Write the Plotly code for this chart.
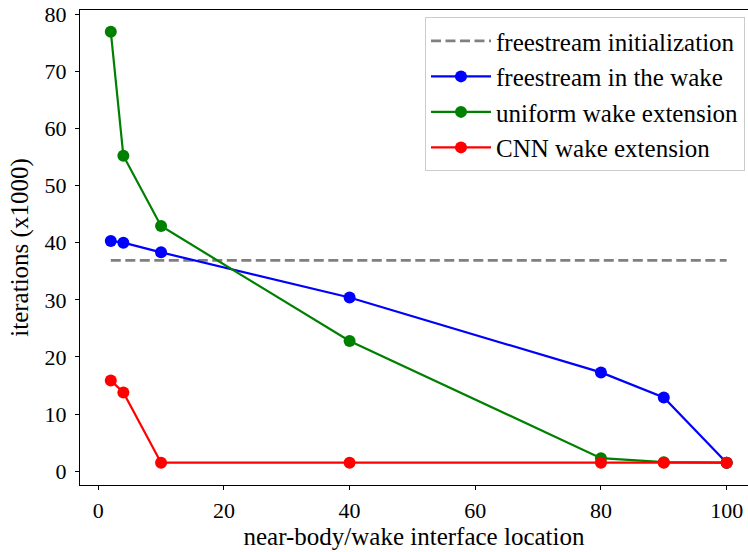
import plotly.graph_objects as go

x_loc = [2, 4, 10, 40, 80, 90, 100]
freestream_init = [36.9, 36.9, 36.9, 36.9, 36.9, 36.9, 36.9]
freestream_wake = [40.3, 40.0, 38.3, 30.4, 17.3, 12.9, 1.5]
uniform_wake = [76.9, 55.2, 42.9, 22.8, 2.3, 1.6, 1.5]
cnn_wake = [15.9, 13.8, 1.5, 1.5, 1.5, 1.5, 1.5]

x_ticks = [0, 20, 40, 60, 80, 100]
y_ticks = [0, 10, 20, 30, 40, 50, 60, 70, 80]

FONT = "Liberation Serif"
TITLE_FS = 25
LEGEND_FS = 25
TICK_FS = 22

fig = go.Figure()
fig.add_trace(go.Scatter(x=x_loc, y=freestream_init, mode="lines",
                         name="freestream initialization",
                         line=dict(color="#808080", width=2.7, dash="10px,4.5px")))
fig.add_trace(go.Scatter(x=x_loc, y=freestream_wake, mode="lines+markers",
                         name="freestream in the wake",
                         line=dict(color="#0000ff", width=2.2),
                         marker=dict(color="#0000ff", size=12)))
fig.add_trace(go.Scatter(x=x_loc, y=uniform_wake, mode="lines+markers",
                         name="uniform wake extension",
                         line=dict(color="#008000", width=2.2),
                         marker=dict(color="#008000", size=12)))
fig.add_trace(go.Scatter(x=x_loc, y=cnn_wake, mode="lines+markers",
                         name="CNN wake extension",
                         line=dict(color="#ff0000", width=2.2),
                         marker=dict(color="#ff0000", size=12)))

fig.update_layout(
    width=748, height=552,
    margin=dict(l=80, r=0, t=10, b=67),
    paper_bgcolor="white", plot_bgcolor="white",
    font=dict(family=FONT, size=TICK_FS, color="black"),
    legend=dict(x=0.9955, y=0.985, xanchor="right", yanchor="top",
                bgcolor="rgba(255,255,255,0.8)", bordercolor="#cccccc",
                borderwidth=1, font=dict(size=LEGEND_FS), itemwidth=60),
)
fig.update_xaxes(range=[-2.9, 103.4], tickvals=x_ticks, showgrid=False, zeroline=False,
                 showline=True, linecolor="black", linewidth=1.2, mirror=True,
                 ticks="outside", ticklen=4, tickcolor="black", automargin=False,
                 tickfont=dict(size=TICK_FS), ticklabelstandoff=1,
                 title=dict(text="near-body/wake interface location", standoff=4,
                            font=dict(size=TITLE_FS)))
fig.update_yaxes(range=[-2.4, 80.7], tickvals=y_ticks, showgrid=False, zeroline=False,
                 showline=True, linecolor="black", linewidth=1.2, mirror=False,
                 ticks="outside", ticklen=4, tickcolor="black", automargin=False,
                 tickfont=dict(size=TICK_FS), ticklabelstandoff=4,
                 title=dict(text="iterations (x1000)", standoff=8,
                            font=dict(size=TITLE_FS)))

fig.write_html("out.html", config={"displayModeBar": False},
               post_script="document.body.style.margin='0';document.body.style.padding='0';")
